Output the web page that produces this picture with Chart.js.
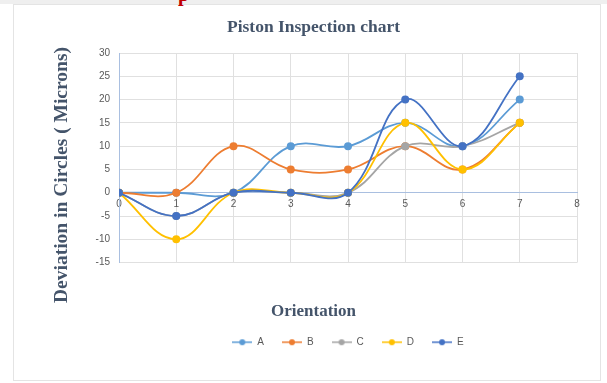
<!DOCTYPE html>
<html>
<head>
<meta charset="utf-8">
<script src="https://cdn.jsdelivr.net/npm/chart.js@4.4.1/dist/chart.umd.min.js"></script>
<style>
  html, body { margin: 0; padding: 0; background: #ffffff; }
  body { width: 607px; height: 383px; position: relative; overflow: hidden; }
  #band { position: absolute; left: 0; top: 0; width: 607px; height: 4px; background: #efefef; }
  #frame { position: absolute; left: 13px; top: 4px; width: 586px; height: 375px;
           border: 1px solid #e4e4e4; background: #ffffff; }
  #mark { position: absolute; left: 178px; top: -17px; font: bold 20px "Liberation Serif", serif; color: #c00000; }
  #wrap { position: absolute; left: 0; top: 0; width: 607px; height: 383px; }
</style>
</head>
<body>
<div id="band"></div>
<div id="frame"></div>
<div id="mark">p</div>
<div id="wrap"><canvas id="c" width="607" height="383"></canvas></div>
<script>
// Orientation positions and measured deviations per piston
const orientation = [0, 1, 2, 3, 4, 5, 6, 7];
const seriesNames = ['A', 'B', 'C', 'D', 'E'];
const valuesA = [0, 0, 0, 10, 10, 15, 10, 20];
const valuesB = [0, 0, 10, 5, 5, 10, 5, 15];
const valuesC = [0, -5, 0, 0, 0, 10, 10, 15];
const valuesD = [0, -10, 0, 0, 0, 15, 5, 15];
const valuesE = [0, -5, 0, 0, 0, 20, 10, 25];
const seriesColors = ['#5b9bd5', '#ed7d31', '#a5a5a5', '#ffc000', '#4472c4'];
const yAxisTitle = 'Deviation in Circles ( Microns)';

const allValues = [valuesA, valuesB, valuesC, valuesD, valuesE];

const titleColor = '#44546a';
const tickColor = '#595959';
const axisBlue = '#a9bfe0';
const gridGray = '#e0e0e0';

// legend swatch: short line with a dot in the middle
function swatch(color) {
  const cv = document.createElement('canvas');
  cv.width = 20; cv.height = 8;
  const g = cv.getContext('2d');
  g.strokeStyle = color; g.lineWidth = 1.5;
  g.beginPath(); g.moveTo(0, 4); g.lineTo(20, 4); g.stroke();
  g.fillStyle = color;
  g.beginPath(); g.arc(10, 4, 3, 0, Math.PI * 2); g.fill();
  return cv;
}

// vertical axis title, drawn rotated beside the value axis
const yTitlePlugin = {
  id: 'yTitle',
  afterDraw(chart) {
    const ctx = chart.ctx;
    ctx.save();
    ctx.translate(62, 175);
    ctx.rotate(-Math.PI / 2);
    ctx.font = 'bold 19.5px "Liberation Serif", serif';
    ctx.fillStyle = titleColor;
    ctx.textAlign = 'center';
    ctx.textBaseline = 'middle';
    ctx.fillText(yAxisTitle, 0, 0);
    ctx.restore();
  }
};

const datasets = seriesNames.map((name, i) => ({
  label: name,
  data: orientation.map((x, k) => ({ x: x, y: allValues[i][k] })),
  borderColor: seriesColors[i],
  backgroundColor: seriesColors[i],
  borderWidth: 1.8,
  pointRadius: 4,
  pointBorderWidth: 0,
  tension: 0.4,
  order: seriesNames.length - i,
  showLine: true
}));

new Chart(document.getElementById('c'), {
  type: 'scatter',
  data: { datasets },
  plugins: [yTitlePlugin],
  options: {
    responsive: false,
    animation: false,
    layout: { padding: { left: 50, right: 30, top: 17, bottom: 25.75 } },
    plugins: {
      title: {
        display: true,
        text: 'Piston Inspection chart',
        color: titleColor,
        font: { family: '"Liberation Serif", serif', size: 17.5, weight: 'bold' },
        padding: { top: 0, bottom: 15 }
      },
      subtitle: {
        display: true,
        position: 'bottom',
        weight: 500,
        text: 'Orientation',
        color: titleColor,
        font: { family: '"Liberation Serif", serif', size: 17, weight: 'bold', lineHeight: 0.9 },
        padding: { top: 41.35, bottom: 0 }
      },
      legend: {
        position: 'bottom',
        fullSize: false,
        labels: {
          usePointStyle: true,
          pointStyleWidth: 20,
          color: tickColor,
          font: { family: '"Liberation Sans", sans-serif', size: 10 },
          padding: 18,
          sort: (a, b) => a.datasetIndex - b.datasetIndex,
          generateLabels: (chart) => chart.data.datasets.map((ds, i) => ({
            text: ds.label,
            fillStyle: ds.backgroundColor,
            strokeStyle: ds.borderColor,
            lineWidth: 0,
            pointStyle: swatch(ds.borderColor),
            datasetIndex: i,
            hidden: false,
            fontColor: tickColor
          }))
        }
      },
      tooltip: { enabled: false }
    },
    scales: {
      x: {
        type: 'linear',
        position: { y: 0 },
        min: 0,
        max: 8,
        ticks: {
          stepSize: 1,
          color: tickColor,
          padding: 6,
          font: { family: '"Liberation Sans", sans-serif', size: 10 }
        },
        grid: { color: gridGray, drawTicks: false },
        border: { color: axisBlue, width: 1 }
      },
      y: {
        min: -15,
        max: 30,
        afterFit: (s) => { s.width = 69; },
        ticks: {
          stepSize: 5,
          color: tickColor,
          padding: 9,
          font: { family: '"Liberation Sans", sans-serif', size: 10 }
        },
        grid: { color: gridGray, drawTicks: false },
        border: { color: axisBlue, width: 1 }
      }
    }
  }
});
</script>
</body>
</html>
